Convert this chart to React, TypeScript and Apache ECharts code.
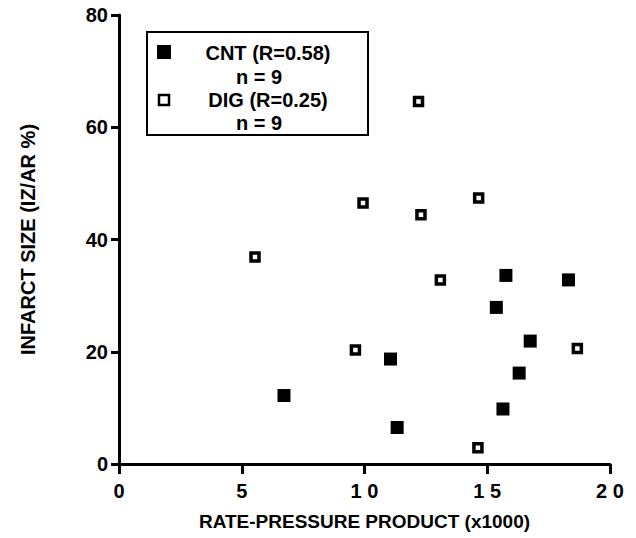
import React, { useEffect, useRef } from "react";
import * as echarts from "echarts";

const cntX = [15.76, 18.31, 15.37, 16.75, 16.3, 15.64, 11.33, 11.06, 6.72];
const cntY = [33.6, 32.8, 27.9, 21.9, 16.2, 9.8, 6.5, 18.7, 12.2];
const digX = [5.54, 9.63, 9.94, 12.2, 12.3, 14.65, 13.09, 18.67, 14.62];
const digY = [36.9, 20.3, 46.5, 64.6, 44.4, 47.4, 32.8, 20.6, 2.9];
const xTickLabels: Record<number, string> = { 0: "0", 5: "5", 10: "1 0", 15: "1 5", 20: "2 0" };
const legendLines = ["CNT (R=0.58)", "n = 9", "DIG (R=0.25)", "n = 9"];

const FONT = "'Liberation Sans', Arial, sans-serif";

export default function App() {
  const ref = useRef<HTMLDivElement>(null);
  useEffect(() => {
    document.body.style.margin = "0";
    if (!ref.current) return;
    const chart = echarts.init(ref.current, undefined, { renderer: "svg" });
    const axisCommon = {
      axisLine: { show: true, lineStyle: { color: "#000", width: 3 } },
      splitLine: { show: false },
    };
    chart.setOption({
      animation: false,
      backgroundColor: "#fff",
      textStyle: { fontFamily: FONT },
      grid: { left: 119, right: 26, top: 15, bottom: 74, containLabel: false },
      xAxis: {
        type: "value",
        min: 0,
        max: 20,
        interval: 5,
        ...axisCommon,
        axisTick: { show: true, length: 10, lineStyle: { color: "#000", width: 3 } },
        axisLabel: {
          color: "#000",
          fontFamily: FONT,
          fontWeight: "bold",
          fontSize: 20,
          margin: 17,
          formatter: (v: number) => xTickLabels[v] ?? String(v),
        },
        name: "RATE-PRESSURE PRODUCT (x1000)",
        nameLocation: "middle",
        nameGap: 48,
        nameTextStyle: { color: "#000", fontFamily: FONT, fontWeight: "bold", fontSize: 19 },
      },
      yAxis: {
        type: "value",
        min: 0,
        max: 80,
        interval: 20,
        ...axisCommon,
        axisTick: { show: true, length: 8, lineStyle: { color: "#000", width: 3 } },
        axisLabel: {
          color: "#000",
          fontFamily: FONT,
          fontWeight: "bold",
          fontSize: 20,
          margin: 11,
        },
        name: "INFARCT SIZE (IZ/AR %)",
        nameLocation: "middle",
        nameGap: 81,
        nameRotate: 90,
        nameTextStyle: { color: "#000", fontFamily: FONT, fontWeight: "bold", fontSize: 20 },
      },
      series: [
        {
          name: "CNT",
          type: "scatter",
          symbol: "rect",
          symbolSize: 13,
          itemStyle: { color: "#000", opacity: 1 },
          data: cntX.map((x, i) => [x, cntY[i]]),
        },
        {
          name: "DIG",
          type: "scatter",
          symbol: "rect",
          symbolSize: 8,
          itemStyle: { color: "#fff", borderColor: "#000", borderWidth: 3.5, opacity: 1 },
          data: digX.map((x, i) => [x, digY[i]]),
        },
      ],
      graphic: [
        {
          type: "rect",
          shape: { x: 147, y: 32, width: 221, height: 103 },
          style: { fill: "#fff", stroke: "#000", lineWidth: 2 },
          z: 10,
        },
        {
          type: "rect",
          shape: { x: 157, y: 45, width: 14, height: 14 },
          style: { fill: "#000" },
          z: 11,
        },
        {
          type: "rect",
          shape: { x: 159, y: 95, width: 10, height: 10 },
          style: { fill: "#fff", stroke: "#000", lineWidth: 2.5 },
          z: 11,
        },
        ...legendLines.map((t, i) => ({
          type: "text",
          x: i % 2 === 0 ? 268 : 259,
          y: [53, 77, 100, 123][i],
          z: 11,
          style: {
            text: t,
            fill: "#000",
            font: `bold 20px ${FONT}`,
            textAlign: "center",
            textVerticalAlign: "middle",
          },
        })),
      ],
    });
    return () => chart.dispose();
  }, []);
  return <div ref={ref} style={{ width: 636, height: 538 }} />;
}
